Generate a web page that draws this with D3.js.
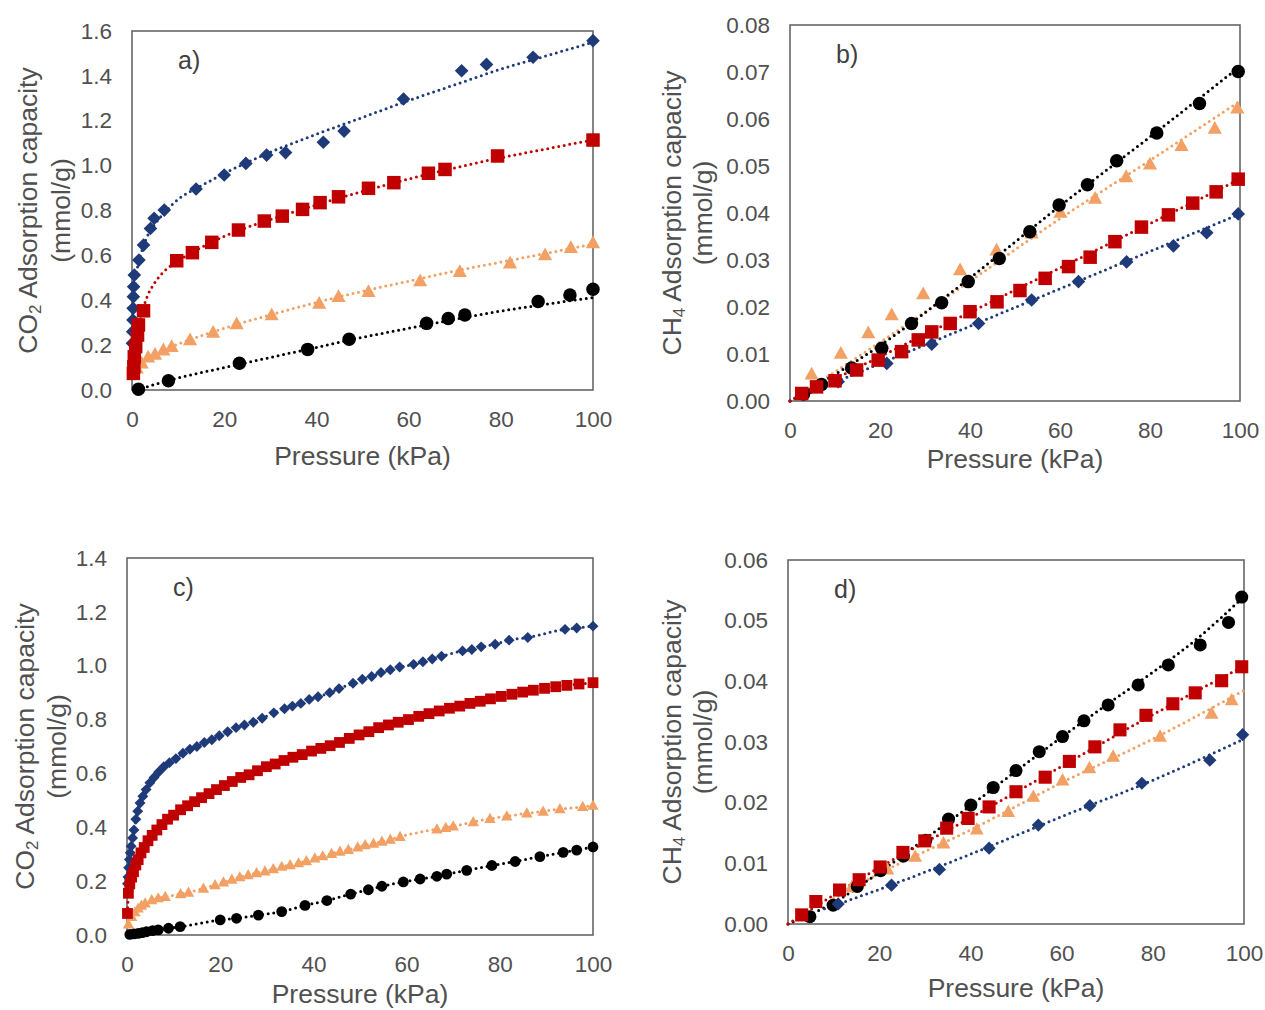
<!DOCTYPE html>
<html><head><meta charset="utf-8">
<script src="https://cdn.jsdelivr.net/npm/d3@7"></script>
<style>
body{margin:0;background:#fff}
svg{display:block}
text{font-family:"Liberation Sans",Arial,Helvetica,sans-serif}
</style>
</head><body>
<svg id="chart" width="1265" height="1010"></svg>
<script>
// ---------------- DATA (pressure kPa, adsorbed amount mmol/g) ----------------
const xTicks = [0, 20, 40, 60, 80, 100];
const aYTicks = [0, 0.2, 0.4, 0.6, 0.8, 1.0, 1.2, 1.4, 1.6];
const bYTicks = [0, 0.01, 0.02, 0.03, 0.04, 0.05, 0.06, 0.07, 0.08];
const cYTicks = [0, 0.2, 0.4, 0.6, 0.8, 1.0, 1.2, 1.4];
const dYTicks = [0, 0.01, 0.02, 0.03, 0.04, 0.05, 0.06];
const panelLabels = ["a)", "b)", "c)", "d)"];
const xTitle = "Pressure (kPa)";

// Panel a – CO2
const aBlue = [[0.1,0.208],[0.15,0.26],[0.2,0.312],[0.25,0.364],[0.3,0.416],[0.35,0.46],[0.5,0.512],[1.5,0.579],[2.5,0.646],[4.0,0.72],[4.8,0.765],[7.0,0.802],[13.9,0.896],[20.0,0.958],[24.7,1.010],[29.2,1.047],[33.3,1.058],[41.5,1.104],[46.0,1.154],[58.9,1.297],[71.5,1.423],[76.9,1.451],[87.0,1.483],[100,1.557]];
const aBlueFit = [[0.05,0.15],[0.2,0.3],[0.5,0.42],[1,0.52],[2,0.61],[3,0.67],[5,0.74],[7,0.79],[10,0.85],[15,0.91],[20,0.965],[30,1.06],[40,1.14],[50,1.215],[60,1.29],[70,1.36],[80,1.43],[90,1.49],[100,1.55]];
const aRed = [[0.3,0.074],[0.4,0.104],[0.5,0.148],[0.8,0.193],[1.2,0.245],[1.4,0.29],[2.5,0.353],[9.7,0.576],[13.1,0.612],[17.3,0.658],[23.1,0.713],[28.7,0.753],[32.6,0.775],[37.0,0.805],[40.8,0.835],[44.8,0.861],[51.3,0.899],[56.8,0.924],[64.3,0.966],[67.9,0.983],[79.3,1.043],[100,1.114]];
const aRedFit = [[0.3,0.07],[1,0.22],[2,0.33],[3,0.4],[5,0.48],[7,0.53],[10,0.575],[15,0.635],[20,0.685],[30,0.76],[40,0.825],[50,0.885],[60,0.94],[70,0.99],[80,1.035],[90,1.075],[100,1.115]];
const aOrange = [[1.0,0.097],[2.1,0.119],[3.5,0.146],[5.0,0.159],[6.8,0.178],[8.6,0.193],[12.6,0.223],[17.6,0.257],[22.7,0.294],[30.3,0.334],[40.6,0.386],[44.8,0.416],[51.3,0.438],[62.5,0.486],[71.1,0.527],[82.0,0.565],[89.6,0.602],[95.2,0.634],[100,0.656]];
const aOrangeFit = [[0.5,0.08],[2,0.12],[5,0.16],[10,0.205],[20,0.275],[30,0.335],[40,0.39],[50,0.44],[60,0.485],[70,0.53],[80,0.57],[90,0.61],[100,0.65]];
const aBlack = [[1.4,0.003],[7.9,0.041],[23.3,0.119],[38.1,0.181],[47.1,0.226],[63.9,0.297],[68.6,0.319],[72.2,0.334],[88.1,0.394],[95.0,0.423],[100,0.449]];
const aBlackFit = [[1,0.0],[8,0.043],[20,0.1],[30,0.145],[40,0.19],[50,0.235],[60,0.275],[70,0.315],[80,0.352],[90,0.383],[100,0.412]];

// Panel b – CH4
const bBlack = [[3,0.0015],[7,0.0035],[13.7,0.0070],[20.4,0.0112],[27.0,0.0165],[33.7,0.0209],[39.6,0.0254],[46.5,0.0303],[53.3,0.0360],[59.8,0.0417],[66.1,0.0460],[72.6,0.0511],[81.5,0.0570],[91.0,0.0633],[99.6,0.0701]];
const bBlackFit = [[0,0],[20,0.0118],[40,0.0262],[60,0.0415],[80,0.0562],[100,0.0712]];
const bOrange = [[4.8,0.0057],[11.3,0.0101],[17.4,0.0145],[22.6,0.0183],[29.6,0.0228],[37.8,0.0279],[45.9,0.0321],[53.7,0.0357],[60.1,0.0401],[67.8,0.0431],[74.7,0.0477],[80.0,0.0504],[87.0,0.0543],[94.4,0.0580],[99.4,0.0623]];
const bOrangeFit = [[0,0],[20,0.0125],[40,0.0255],[60,0.0388],[80,0.0512],[100,0.0638]];
const bRed = [[2.6,0.0016],[5.9,0.0030],[10.0,0.0043],[14.8,0.0066],[19.6,0.0087],[24.8,0.0105],[28.5,0.0130],[31.5,0.0147],[35.6,0.0165],[40.0,0.0190],[46.0,0.0211],[51.1,0.0235],[56.7,0.0261],[61.9,0.0286],[66.7,0.0306],[72.2,0.0339],[78.1,0.0370],[84.1,0.0396],[89.5,0.0421],[94.7,0.0445],[99.6,0.0472]];
const bRedFit = [[0,0],[100,0.0472]];
const bBlue = [[10.7,0.0041],[21.5,0.0080],[31.5,0.0121],[41.9,0.0165],[53.7,0.0215],[64.1,0.0254],[74.8,0.0296],[85.2,0.0330],[92.6,0.0358],[99.6,0.0398]];
const bBlueFit = [[0,0],[100,0.0398]];

// Panel c – CO2
const cBlue = [[0.1,0.19],[0.2,0.215],[0.35,0.25],[0.5,0.28],[0.7,0.305],[0.9,0.33],[1.2,0.36],[1.5,0.39],[1.9,0.43],[2.3,0.46],[2.8,0.49],[3.4,0.515],[4.1,0.54],[4.9,0.565],[5.8,0.585],[6.8,0.605],[7.9,0.625],[9.1,0.64],[10.5,0.655],[12,0.675],[13.5,0.69],[15,0.70],[16.6,0.715],[18.2,0.725],[19.8,0.74],[21.6,0.755],[23.4,0.77],[25.2,0.78],[27.1,0.79],[29,0.805],[31.5,0.825],[33.8,0.84],[35.5,0.85],[37.3,0.86],[39.1,0.875],[41,0.885],[43.5,0.90],[45.5,0.915],[48.5,0.935],[50.5,0.95],[52.5,0.96],[54.5,0.975],[56.5,0.985],[58.5,0.995],[61.5,1.005],[63.5,1.015],[65.5,1.025],[67.5,1.035],[72,1.055],[74,1.06],[76,1.07],[79,1.08],[82,1.095],[86,1.105],[94,1.135],[96.5,1.14],[100,1.147]];
const cRed = [[0.1,0.08],[0.3,0.155],[0.6,0.19],[1.0,0.215],[1.4,0.235],[1.9,0.26],[2.4,0.28],[3.0,0.305],[3.7,0.325],[4.5,0.35],[5.4,0.37],[6.4,0.39],[7.5,0.41],[8.7,0.43],[10,0.445],[11.5,0.465],[13,0.48],[14.5,0.495],[16,0.51],[17.6,0.525],[19.2,0.54],[20.9,0.555],[22.6,0.57],[24.4,0.585],[26.2,0.595],[28,0.61],[29.9,0.625],[31.8,0.635],[33.7,0.648],[35.6,0.66],[37.6,0.67],[39.6,0.683],[41.6,0.693],[43.6,0.703],[45.6,0.715],[47.7,0.73],[49.8,0.743],[51.9,0.755],[54,0.77],[56.1,0.78],[58.2,0.79],[60.4,0.80],[62.6,0.812],[64.8,0.822],[67,0.832],[69.2,0.842],[71.4,0.85],[73.6,0.86],[75.8,0.868],[78,0.877],[80.3,0.886],[82.6,0.894],[84.9,0.902],[87.2,0.909],[89.6,0.916],[92,0.922],[94.4,0.927],[97,0.932],[100,0.937]];
const cOrange = [[0.3,0.04],[1.0,0.068],[1.7,0.085],[2.4,0.099],[3.1,0.11],[3.9,0.118],[5.3,0.13],[6.7,0.137],[8.2,0.142],[11.5,0.152],[13.2,0.158],[16.4,0.173],[18.9,0.186],[20.7,0.196],[22.5,0.206],[24.2,0.215],[26,0.223],[27.8,0.23],[29.6,0.237],[31.4,0.245],[33.2,0.254],[35,0.26],[36.8,0.267],[38.5,0.275],[40.3,0.285],[42,0.293],[43.9,0.302],[45.7,0.31],[47.5,0.317],[49.5,0.326],[51.1,0.334],[52.9,0.34],[54.7,0.347],[56.5,0.355],[58.6,0.365],[66.5,0.393],[68.4,0.398],[70.0,0.404],[74.3,0.42],[77.9,0.432],[81.5,0.441],[85.8,0.452],[89.3,0.459],[92.9,0.468],[97.8,0.476],[100,0.481]];
const cBlack = [[0.6,0.002],[1.5,0.004],[2.4,0.006],[3.3,0.009],[4.2,0.012],[5.5,0.016],[6.7,0.019],[8.9,0.025],[11.4,0.031],[20,0.056],[23.5,0.062],[28.2,0.074],[33.2,0.087],[38.2,0.110],[42.9,0.128],[48,0.152],[51.8,0.168],[54.7,0.181],[59.3,0.197],[62.9,0.208],[66.5,0.218],[68.6,0.226],[72.9,0.240],[78.3,0.258],[83.3,0.273],[88.6,0.291],[93.6,0.307],[96.5,0.315],[100,0.327]];

// Panel d – CH4
const dBlack = [[4.8,0.0012],[9.9,0.0031],[15.2,0.0062],[20.3,0.0088],[25.3,0.0112],[30.2,0.0138],[35.2,0.0173],[40.1,0.0196],[45.0,0.0225],[50.0,0.0253],[55.1,0.0284],[60.2,0.0309],[64.9,0.0335],[70.2,0.0361],[76.8,0.0394],[83.4,0.0427],[90.4,0.0460],[96.6,0.0497],[99.5,0.0539]];
const dBlackFit = [[0,0],[10,0.0035],[20,0.0085],[30,0.014],[40,0.0195],[50,0.0252],[60,0.0308],[70,0.0362],[80,0.0415],[90,0.0472],[100,0.0540]];
const dRed = [[3.0,0.0015],[6.1,0.0037],[11.3,0.0056],[15.6,0.0073],[20.2,0.0094],[25.2,0.0118],[30.0,0.0137],[34.8,0.0158],[39.5,0.0174],[44.1,0.0193],[50.0,0.0218],[56.4,0.0242],[61.7,0.0268],[67.3,0.0292],[72.8,0.0320],[78.5,0.0344],[84.4,0.0363],[89.3,0.0381],[95.1,0.0401],[99.5,0.0424]];
const dRedFit = [[0,0],[20,0.0093],[40,0.0175],[60,0.026],[80,0.0345],[100,0.0425]];
const dOrange = [[14.0,0.0061],[21.8,0.0090],[27.9,0.0111],[34.1,0.0133],[41.4,0.0156],[48.3,0.0185],[53.8,0.0210],[60.2,0.0237],[66.1,0.0257],[71.3,0.0276],[81.6,0.0309],[92.9,0.0347],[97.3,0.0369]];
const dOrangeFit = [[10,0.0042],[20,0.0083],[40,0.0155],[60,0.0233],[80,0.0305],[100,0.0385]];
const dBlue = [[11.0,0.0033],[22.7,0.0064],[33.2,0.0090],[44.1,0.0125],[54.9,0.0163],[66.2,0.0195],[77.6,0.0232],[92.5,0.0270],[99.7,0.0312]];
const dBlueFit = [[8,0.0025],[20,0.0057],[40,0.0115],[60,0.0177],[80,0.0237],[100,0.0305]];

// ---------------- STYLE ----------------
const COL = {blue:"#1f3a78", red:"#c00000", orange:"#f2a064", black:"#000000"};
const SHAPE = {blue:"diamond", red:"square", orange:"triangle", black:"circle"};
const textCol = "#505050";

const panels = [
  {label:panelLabels[0], box:{l:132,r:593,t:31,b:390}, yMax:1.6, yTicks:aYTicks, fmt:d3.format(".1f"), gas:["CO","2"], ms:1.0, t1:104, t2:71, xt:75,
   series:[["orange",aOrange,aOrangeFit],["black",aBlack,aBlackFit],["blue",aBlue,aBlueFit],["red",aRed,aRedFit]]},
  {label:panelLabels[1], box:{l:790,r:1240,t:25,b:401}, yMax:0.08, yTicks:bYTicks, fmt:d3.format(".2f"), gas:["CH","4"], ms:1.0, t1:118, t2:87, xt:67,
   series:[["orange",bOrange,bOrangeFit],["black",bBlack,bBlackFit],["blue",bBlue,bBlueFit],["red",bRed,bRedFit]]},
  {label:panelLabels[2], box:{l:127,r:593,t:558,b:935}, yMax:1.4, yTicks:cYTicks, fmt:d3.format(".1f"), gas:["CO","2"], ms:0.8, t1:102, t2:70, xt:68,
   series:[["orange",cOrange,null],["black",cBlack,null],["blue",cBlue,null],["red",cRed,null]]},
  {label:panelLabels[3], box:{l:788,r:1244,t:560,b:924}, yMax:0.06, yTicks:dYTicks, fmt:d3.format(".2f"), gas:["CH","4"], ms:0.97, t1:116, t2:85, xt:73,
   series:[["orange",dOrange,dOrangeFit],["black",dBlack,dBlackFit],["blue",dBlue,dBlueFit],["red",dRed,dRedFit]]}
];

function markerPath(shape, s){
  const h = s/2;
  if(shape==="square") return `M${-h},${-h}H${h}V${h}H${-h}Z`;
  if(shape==="diamond"){ const r=h*1.05; return `M0,${-r}L${r},0L0,${r}L${-r},0Z`; }
  if(shape==="triangle"){ const r=h*1.05; return `M0,${-r*1.05}L${r},${r*0.75}L${-r},${r*0.75}Z`; }
  return d3.symbol(d3.symbolCircle, Math.PI*h*h)();
}
const baseSize = {square:13.5, diamond:13, triangle:13.5, circle:13.5};

const svg = d3.select("#chart");

panels.forEach(p=>{
  const {l,r,t,b} = p.box;
  const x = d3.scaleLinear().domain([0,100]).range([l,r]);
  const y = d3.scaleLinear().domain([0,p.yMax]).range([b,t]);
  const g = svg.append("g");

  // axes (labels only)
  const xa = g.append("g").attr("transform",`translate(0,${b})`)
    .call(d3.axisBottom(x).tickValues(xTicks).tickSize(0).tickPadding(21).tickFormat(d3.format("d")));
  const ya = g.append("g").attr("transform",`translate(${l},0)`)
    .call(d3.axisLeft(y).tickValues(p.yTicks).tickSize(0).tickPadding(20).tickFormat(p.fmt));
  [xa,ya].forEach(a=>{
    a.select(".domain").remove();
    a.selectAll("text").attr("fill",textCol).style("font-size","22.5px")
     .style("font-family",'"Liberation Sans",Arial,sans-serif');
  });

  // plot frame
  g.append("rect").attr("x",l).attr("y",t).attr("width",r-l).attr("height",b-t)
   .attr("fill","none").attr("stroke","#666").attr("stroke-width",1.6);

  // series
  const line = d3.line().x(d=>x(d[0])).y(d=>y(d[1])).curve(d3.curveMonotoneX);
  p.series.forEach(([key,data,fit])=>{
    g.append("path").datum(fit||data).attr("d",line)
      .attr("fill","none").attr("stroke",COL[key]).attr("stroke-width",3)
      .attr("stroke-linecap","round").attr("stroke-dasharray","0 5.6");
  });
  p.series.forEach(([key,data])=>{
    const shape = SHAPE[key];
    const s = baseSize[shape]*p.ms;
    g.append("g").selectAll("path").data(data).join("path")
      .attr("transform",d=>`translate(${x(d[0])},${y(d[1])})`)
      .attr("d",markerPath(shape,s))
      .attr("fill",COL[key]);
  });

  // panel label
  g.append("text").attr("x",l+46).attr("y",t+38).attr("fill","#404040")
   .style("font-size","25px").text(p.label);

  // x title
  g.append("text").attr("x",(l+r)/2).attr("y",b+p.xt).attr("text-anchor","middle")
   .attr("fill",textCol).style("font-size","26.5px").text(xTitle);

  // y title (two lines)
  const cy = (t+b)/2;
  const yt = g.append("text").attr("transform",`translate(${l-p.t1},${cy}) rotate(-90)`)
   .attr("text-anchor","middle").attr("dominant-baseline","central")
   .attr("fill",textCol).style("font-size","26.5px");
  yt.append("tspan").text(p.gas[0]);
  yt.append("tspan").attr("dy",7).style("font-size","17px").text(p.gas[1]);
  yt.append("tspan").attr("dy",-7).text(" Adsorption capacity");
  g.append("text").attr("transform",`translate(${l-p.t2},${cy}) rotate(-90)`)
   .attr("text-anchor","middle").attr("dominant-baseline","central")
   .attr("fill",textCol).style("font-size","26.5px").text("(mmol/g)");
});
</script>
</body></html>
